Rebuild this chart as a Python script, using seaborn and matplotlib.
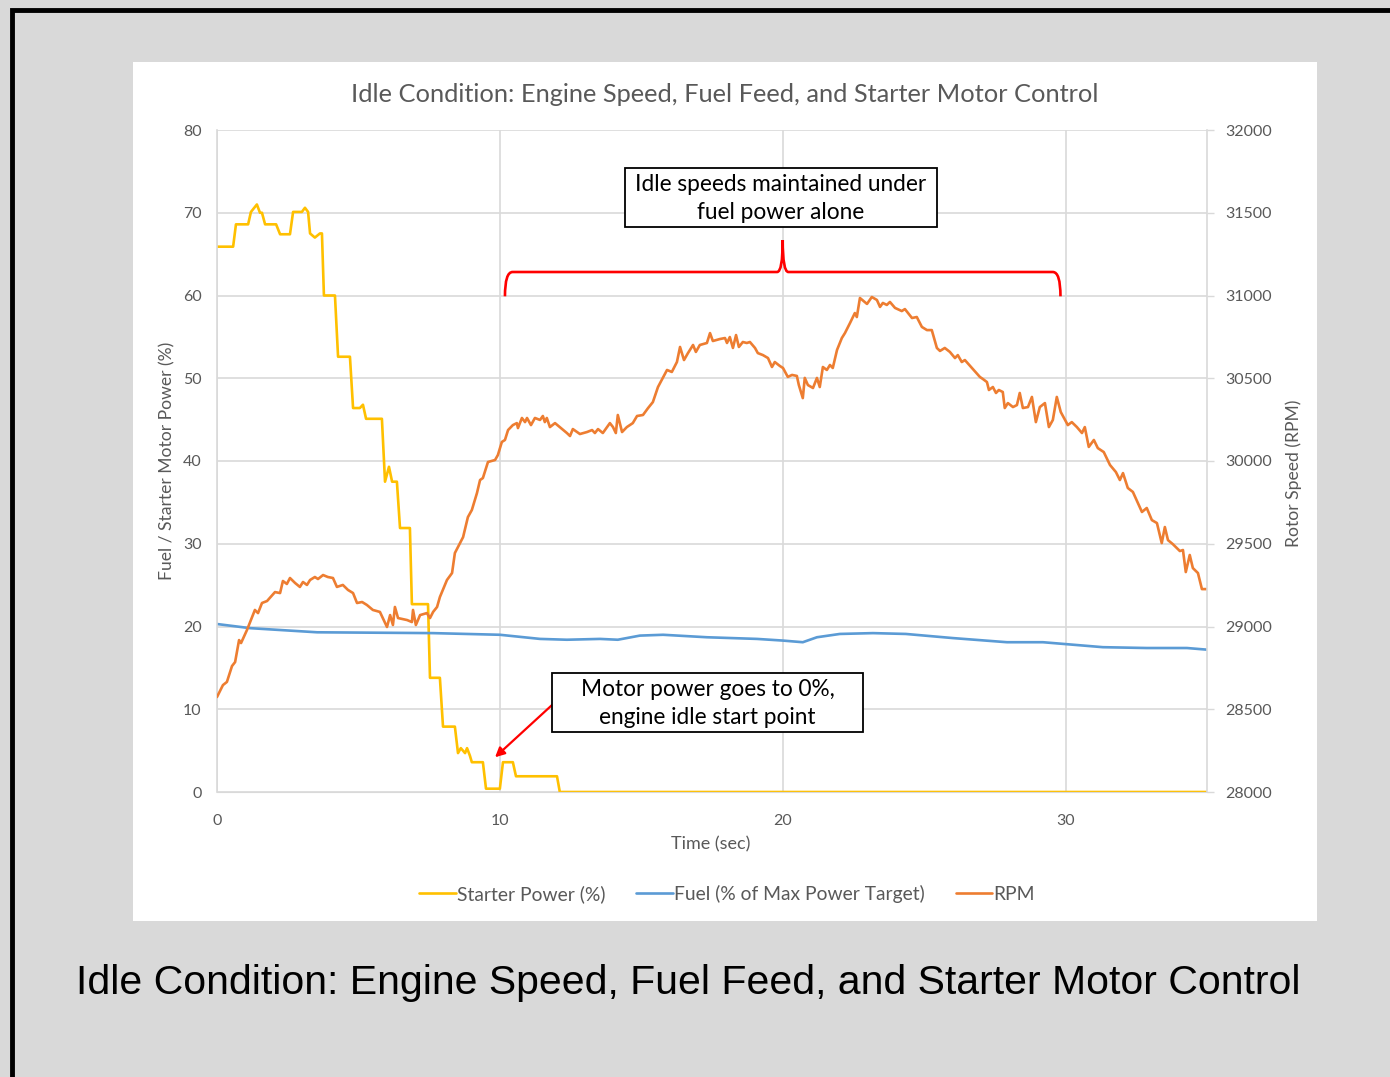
import matplotlib
matplotlib.use("Agg")
import matplotlib.pyplot as plt
import seaborn as sns
from matplotlib.path import Path
from matplotlib.patches import PathPatch, Rectangle

# starter motor power (%) - stepped trace
starter_t = [0.0, 0.57, 0.67, 1.10, 1.20, 1.41, 1.52, 1.59, 1.70, 2.09, 2.23, 2.58, 2.69, 3.00,
             3.11, 3.22, 3.29, 3.46, 3.64, 3.71, 3.78, 4.17, 4.28, 4.70, 4.81, 5.05, 5.16, 5.27,
             5.83, 5.94, 6.08, 6.19, 6.36, 6.47, 6.82, 6.89, 7.46, 7.53, 7.88, 7.99, 8.41, 8.52,
             8.62, 8.77, 8.84, 8.94, 9.01, 9.40, 9.51, 10.00, 10.11, 10.46, 10.57, 12.02, 12.12, 35.0]
starter_pct = [65.9, 65.9, 68.6, 68.6, 70.1, 71.0, 70.0, 70.0, 68.6, 68.6, 67.4, 67.4, 70.1, 70.1,
               70.6, 70.1, 67.5, 67.0, 67.5, 67.5, 60.0, 60.0, 52.6, 52.6, 46.4, 46.4, 46.8, 45.1,
               45.1, 37.5, 39.3, 37.5, 37.5, 31.9, 31.9, 22.7, 22.7, 13.8, 13.8, 7.9, 7.9, 4.7,
               5.3, 4.7, 5.3, 4.4, 3.6, 3.6, 0.4, 0.4, 3.6, 3.6, 1.9, 1.9, 0.0, 0.0]

# fuel (% of max power target)
fuel_t = [0.0, 1.17, 3.54, 7.64, 10.0, 11.42, 12.37, 13.54, 14.17, 14.95, 15.77, 17.32, 19.09,
          20.0, 20.71, 21.21, 22.02, 23.19, 24.35, 26.02, 27.93, 29.2, 31.32, 32.87, 34.29, 35.0]
fuel_pct = [20.3, 19.8, 19.3, 19.2, 19.0, 18.5, 18.4, 18.5, 18.4, 18.9, 19.0, 18.7, 18.5,
            18.3, 18.1, 18.7, 19.1, 19.2, 19.1, 18.6, 18.1, 18.1, 17.5, 17.4, 17.4, 17.2]

# rotor speed (RPM)
rpm_t = [0.0, 0.21, 0.35, 0.53, 0.64, 0.78, 0.85, 1.06, 1.34, 1.45, 1.59, 1.77, 2.05, 2.23, 2.33,
         2.47, 2.58, 2.76, 2.93, 3.04, 3.18, 3.29, 3.46, 3.57, 3.75, 3.92, 4.10, 4.24, 4.45, 4.63,
         4.81, 4.95, 5.13, 5.30, 5.51, 5.76, 6.01, 6.12, 6.22, 6.29, 6.40, 6.72, 6.89, 6.93, 7.03,
         7.18, 7.42, 7.53, 7.64, 7.78, 7.88, 8.13, 8.31, 8.41, 8.59, 8.70, 8.87, 9.01, 9.19, 9.30,
         9.40, 9.58, 9.83, 9.93, 10.07, 10.18, 10.29, 10.46, 10.60, 10.64, 10.78, 10.89, 10.96,
         11.10, 11.24, 11.42, 11.52, 11.59, 11.66, 11.77, 11.95, 12.12, 12.37, 12.48, 12.58, 12.83,
         13.08, 13.26, 13.36, 13.47, 13.64, 13.89, 14.00, 14.10, 14.17, 14.32, 14.49, 14.70, 14.85,
         15.06, 15.24, 15.41, 15.59, 15.91, 16.08, 16.26, 16.37, 16.51, 16.65, 16.83, 16.93, 17.07,
         17.32, 17.43, 17.53, 17.78, 17.96, 18.03, 18.13, 18.24, 18.35, 18.45, 18.59, 18.73, 18.84,
         19.02, 19.12, 19.30, 19.48, 19.62, 19.72, 19.90, 20.01, 20.18, 20.33, 20.50, 20.57, 20.71,
         20.78, 20.89, 21.07, 21.21, 21.31, 21.42, 21.56, 21.67, 21.77, 21.92, 22.09, 22.20, 22.38,
         22.55, 22.62, 22.73, 22.98, 23.15, 23.33, 23.44, 23.54, 23.68, 23.79, 23.97, 24.21, 24.32,
         24.57, 24.74, 24.92, 25.10, 25.27, 25.45, 25.56, 25.73, 25.91, 26.09, 26.19, 26.33, 26.44,
         26.69, 26.97, 27.08, 27.22, 27.29, 27.43, 27.54, 27.64, 27.78, 27.85, 27.96, 28.14, 28.28,
         28.38, 28.49, 28.67, 28.81, 28.95, 29.09, 29.27, 29.41, 29.55, 29.69, 29.83, 30.08, 30.22,
         30.40, 30.58, 30.68, 30.82, 31.00, 31.14, 31.35, 31.57, 31.78, 31.92, 32.03, 32.20, 32.38,
         32.70, 32.87, 33.05, 33.23, 33.40, 33.51, 33.62, 33.79, 34.04, 34.15, 34.25, 34.39, 34.50,
         34.68, 34.82, 35.00]
rpm = [28574, 28646, 28665, 28761, 28785, 28918, 28900, 28979, 29100, 29081, 29142, 29154, 29208,
       29202, 29275, 29257, 29293, 29263, 29239, 29269, 29251, 29281, 29299, 29287, 29311, 29299,
       29293, 29239, 29251, 29221, 29202, 29142, 29148, 29130, 29100, 29088, 28997, 29069, 29009,
       29118, 29051, 29039, 29027, 29100, 29009, 29069, 29081, 29051, 29088, 29118, 29178, 29281,
       29323, 29444, 29504, 29540, 29661, 29704, 29806, 29885, 29897, 29994, 30006, 30036, 30115,
       30127, 30187, 30217, 30229, 30199, 30260, 30235, 30260, 30217, 30260, 30248, 30272, 30235,
       30260, 30205, 30229, 30205, 30169, 30151, 30193, 30163, 30175, 30187, 30169, 30193, 30169,
       30229, 30205, 30169, 30278, 30175, 30205, 30229, 30272, 30278, 30320, 30356, 30447, 30550,
       30538, 30598, 30689, 30610, 30652, 30701, 30659, 30701, 30713, 30773, 30725, 30737, 30743,
       30713, 30749, 30683, 30761, 30689, 30719, 30713, 30719, 30683, 30652, 30640, 30622, 30568,
       30598, 30574, 30562, 30508, 30520, 30514, 30459, 30380, 30502, 30459, 30441, 30502, 30447,
       30568, 30550, 30580, 30562, 30671, 30743, 30773, 30834, 30894, 30870, 30985, 30949, 30991,
       30973, 30931, 30955, 30943, 30961, 30925, 30906, 30918, 30864, 30870, 30810, 30791, 30791,
       30683, 30665, 30683, 30659, 30622, 30640, 30598, 30610, 30562, 30508, 30495, 30477, 30429,
       30447, 30411, 30429, 30417, 30320, 30350, 30326, 30338, 30411, 30320, 30326, 30387, 30235,
       30326, 30350, 30205, 30248, 30387, 30296, 30217, 30235, 30205, 30169, 30205, 30085, 30127,
       30078, 30054, 29976, 29933, 29885, 29927, 29837, 29813, 29692, 29716, 29643, 29625, 29504,
       29601, 29522, 29498, 29456, 29462, 29329, 29432, 29353, 29323, 29226, 29226]

series_names = ["Starter Power (%)", "Fuel (% of Max Power Target)", "RPM"]
title = "Idle Condition: Engine Speed, Fuel Feed, and Starter Motor Control"

sns.set_style("white")
plt.rcParams["font.family"] = ["Lato", "DejaVu Sans"]

GREY_TXT = "#595959"
GRID = "#d9d9d9"

fig = plt.figure(figsize=(13.9, 10.77), dpi=100, facecolor="#d9d9d9")

# slide frame: white chart panel and black border on top/left
fig.add_artist(Rectangle((133 / 1390, 1 - 921 / 1077), (1317 - 133) / 1390, (921 - 62) / 1077,
                         transform=fig.transFigure, fc="white", ec="none", zorder=0))
fig.add_artist(Rectangle((12 / 1390, -0.05), 1.2, 1 - 10 / 1077 + 0.05,
                         transform=fig.transFigure, fc="none", ec="black", lw=3.5, zorder=5))

ax = fig.add_axes([217 / 1390, 1 - 792 / 1077, 990 / 1390, 662 / 1077])
ax.set_facecolor("white")
ax2 = ax.twinx()

sns.lineplot(x=starter_t, y=starter_pct, ax=ax, color="#FFC000", linewidth=1.9, label=series_names[0])
sns.lineplot(x=fuel_t, y=fuel_pct, ax=ax, color="#5B9BD5", linewidth=1.9, label=series_names[1])
sns.lineplot(x=rpm_t, y=rpm, ax=ax2, color="#ED7D31", linewidth=1.9, label=series_names[2])

ax.set_xlim(0, 35)
ax.set_ylim(0, 80)
ax2.set_ylim(28000, 32000)
ax.set_xticks([0, 10, 20, 30])
ax.set_yticks(range(0, 81, 10))
ax2.set_yticks(range(28000, 32001, 500))

ax.grid(True, color=GRID, lw=1.2)
ax.set_axisbelow(True)
for a in (ax, ax2):
    for s in a.spines.values():
        s.set_visible(False)
ax2.spines["right"].set_visible(True)
ax2.spines["right"].set_color(GRID)
ax2.spines["right"].set_linewidth(1.2)
ax.spines["left"].set_visible(True)
ax.spines["left"].set_color(GRID)
ax.spines["left"].set_linewidth(1.2)
ax.spines["bottom"].set_visible(True)
ax.spines["bottom"].set_color(GRID)

ax.tick_params(axis="both", length=0, labelsize=11.5, labelcolor=GREY_TXT)
ax.tick_params(axis="x", pad=16)
ax.tick_params(axis="y", pad=11)
ax2.tick_params(axis="y", length=5, width=1, color=GRID, labelsize=11.5, labelcolor=GREY_TXT, pad=8)

ax.set_xlabel("Time (sec)", fontsize=13, color=GREY_TXT)
ax.xaxis.set_label_coords(0.499, -0.0785)
ax.xaxis.label.set_va("center")
ax.set_ylabel("Fuel / Starter Motor Power (%)", fontsize=12.6, color=GREY_TXT)
ax.yaxis.set_label_coords(-0.0505, 0.5)
ax.yaxis.label.set_va("center")
ax2.set_ylabel("Rotor Speed (RPM)", fontsize=12.6, color=GREY_TXT, rotation=90)
ax2.yaxis.set_label_coords(1.088, 0.482)
ax2.yaxis.label.set_va("center")

ax.text(0.513, 1.053, title, transform=ax.transAxes, ha="center", va="center",
        fontsize=18.3, color=GREY_TXT)

# legend below the plot
h1, l1 = ax.get_legend_handles_labels()
h2, l2 = ax2.get_legend_handles_labels()
ax.get_legend().remove()
ax2.get_legend().remove()
fig.legend(h1 + h2, l1 + l2, loc="center", bbox_to_anchor=(727 / 1390, 1 - 894 / 1077), ncol=3,
           frameon=False, fontsize=13.9, handlelength=1.9, handletextpad=0.05, columnspacing=1.6,
           labelcolor=GREY_TXT)

# curly bracket over the idle period
verts = [(10.18, 59.9), (10.18, 62.84), (10.45, 62.84), (19.8, 62.84), (20.0, 62.84), (20.0, 66.7),
         (20.0, 62.84), (20.2, 62.84), (29.55, 62.84), (29.82, 62.84), (29.82, 59.9)]
codes = [Path.MOVETO, Path.CURVE3, Path.CURVE3, Path.LINETO, Path.CURVE3, Path.CURVE3,
         Path.CURVE3, Path.CURVE3, Path.LINETO, Path.CURVE3, Path.CURVE3]
ax.add_patch(PathPatch(Path(verts, codes), fc="none", ec="#FF0000", lw=1.9, zorder=6))

# callout boxes
ax.add_patch(Rectangle((14.42, 68.28), 11.03, 7.13, fc="white", ec="black", lw=1.3, zorder=7))
ax.text(19.94, 71.7, "Idle speeds maintained under\nfuel power alone", ha="center", va="center",
        fontsize=16.3, color="black", linespacing=1.38, zorder=8)
ax.add_patch(Rectangle((11.84, 7.25), 11.0, 7.13, fc="white", ec="black", lw=1.3, zorder=7))
ax.text(17.34, 10.7, "Motor power goes to 0%,\nengine idle start point", ha="center", va="center",
        fontsize=16.3, color="black", linespacing=1.38, zorder=8)
ax.annotate("", xy=(9.83, 4.2), xytext=(11.84, 10.5),
            arrowprops=dict(arrowstyle="-|>", color="#FF0000", lw=1.6, mutation_scale=14,
                            shrinkA=0, shrinkB=0), zorder=6)

fig.text(688 / 1390, 1 - 983 / 1077, title, ha="center", va="center", fontsize=29.5,
         family="Liberation Sans", color="black")

fig.savefig("out.png", dpi=100, facecolor=fig.get_facecolor())
